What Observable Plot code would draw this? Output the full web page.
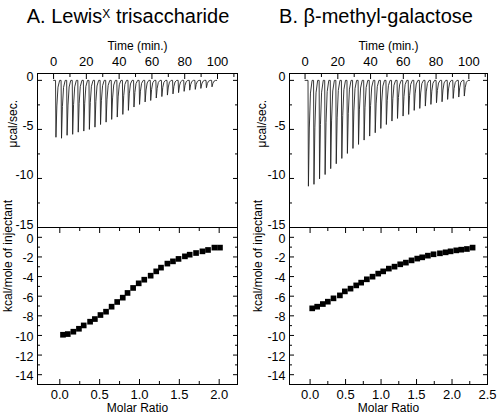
<!DOCTYPE html>
<html><head><meta charset="utf-8">
<script src="https://cdn.jsdelivr.net/npm/d3@7"></script>
<script src="https://cdn.jsdelivr.net/npm/@observablehq/plot@0.6"></script>
<style>
body{margin:0;background:#fff;}
#wrap{position:relative;width:498px;height:420px;font-family:"Liberation Sans",Arial,sans-serif;overflow:hidden;background:#fff;}
#wrap svg{position:absolute;left:0;top:0;}
.title{position:absolute;font-size:20px;line-height:20px;text-align:center;white-space:nowrap;color:#000;}
.title sup{font-size:12px;vertical-align:5px;line-height:0;}
</style></head><body>
<div id="wrap">
<div class="title" style="left:0;width:256px;top:6px">A. Lewis<sup>X</sup> trisaccharide</div>
<div class="title" style="left:250px;width:252px;top:6px">B. β-methyl-galactose</div>
</div>
<script>
// ---- data ----
const timesA = [1.2, 4.6, 8.0, 11.4, 14.8, 18.2, 21.6, 25.0, 28.4, 31.8, 35.2, 38.6, 42.0, 45.4, 48.8, 52.2, 55.6, 59.0, 62.4, 65.8, 69.2, 72.6, 76.0, 79.4, 82.8, 86.2, 89.6, 93.0, 96.4];
const peaksA = [-5.8, -5.9, -5.6, -5.5, -5.28, -5.17, -5.0, -4.77, -4.5, -4.26, -3.98, -3.74, -3.47, -3.06, -2.72, -2.45, -2.2, -2.05, -1.8, -1.65, -1.5, -1.38, -1.25, -1.12, -1.0, -0.92, -0.82, -0.75, -0.66];
const timesB = [1.8, 5.2, 8.6, 12.0, 15.4, 18.8, 22.2, 25.6, 29.0, 32.4, 35.8, 39.2, 42.6, 46.0, 49.4, 52.8, 56.2, 59.6, 63.0, 66.4, 69.8, 73.2, 76.6, 80.0, 83.4, 86.8, 90.2, 93.6, 97.0];
const peaksB = [-10.79, -10.6, -10.04, -9.6, -9.0, -8.5, -7.96, -7.45, -6.94, -6.53, -6.09, -5.68, -5.34, -4.9, -4.5, -4.15, -3.88, -3.64, -3.47, -3.06, -2.86, -2.62, -2.45, -2.28, -2.18, -1.94, -1.84, -1.7, -1.6];
const baselineA = [0, 99.5];
const baselineB = [0, 100.5];

const molarA = [0.04, 0.10, 0.17, 0.24, 0.30, 0.38, 0.44, 0.51, 0.58, 0.65, 0.72, 0.79, 0.85, 0.92, 0.99, 1.06, 1.14, 1.21, 1.27, 1.35, 1.42, 1.49, 1.57, 1.63, 1.71, 1.79, 1.86, 1.94, 2.01];
const heatA = [-9.93, -9.86, -9.62, -9.32, -8.98, -8.6, -8.33, -7.92, -7.58, -7.07, -6.59, -6.15, -5.67, -5.16, -4.69, -4.32, -3.91, -3.47, -3.09, -2.68, -2.45, -2.2, -1.94, -1.77, -1.6, -1.43, -1.29, -1.05, -1.05];
const molarB = [0.03, 0.10, 0.18, 0.25, 0.33, 0.42, 0.49, 0.57, 0.65, 0.72, 0.80, 0.88, 0.96, 1.03, 1.11, 1.19, 1.27, 1.35, 1.43, 1.51, 1.58, 1.66, 1.74, 1.83, 1.91, 1.98, 2.06, 2.13, 2.21, 2.29];
const heatB = [-7.24, -7.07, -6.8, -6.56, -6.22, -5.92, -5.51, -5.23, -4.9, -4.62, -4.28, -4.01, -3.7, -3.47, -3.19, -2.99, -2.75, -2.58, -2.35, -2.17, -2.04, -1.87, -1.73, -1.63, -1.53, -1.43, -1.33, -1.26, -1.19, -1.05];

// tick values
const timeTicks = [0, 20, 40, 60, 80, 100];
const timeMinor = [10, 30, 50, 70, 90, 110];
const rawTicks = [0, -5, -10, -15];
const rawMinor = [-2.5, -7.5, -12.5];
const heatTicks = [0, -2, -4, -6, -8, -10, -12, -14];
const heatMinor = [-1, -3, -5, -7, -9, -11, -13];
const molarTicksA = [0, 0.5, 1.0, 1.5, 2.0];
const molarMinorA = [0.25, 0.75, 1.25, 1.75];
const molarTicksB = [0, 0.5, 1.0, 1.5, 2.0, 2.5];
const molarMinorB = [0.25, 0.75, 1.25, 1.75, 2.25];

const W = 498, H = 420;
const FONT = "Liberation Sans, Arial, sans-serif";
const TOP = 73, MID = 227, BOT = 384;
const fmtInt = d => String(d);
const fmt1 = d3.format(".1f");

// thermogram trace built from each injection's read peak value
function thermogram(times, peaks, base) {
  const pts = [{t: base[0], v: 0}];
  times.forEach((t, i) => {
    const d = peaks[i];
    pts.push({t, v: 0}, {t: t + 0.25, v: d}, {t: t + 0.8, v: 0.45 * d}, {t: t + 1.5, v: 0.12 * d}, {t: t + 2.5, v: 0});
  });
  pts.push({t: base[1], v: 0});
  return pts;
}

function tickAxes(axis, major, minor, anchors) {
  const out = [];
  for (const a of anchors) {
    out.push(axis(major, {anchor: a, tickSize: -5, text: null, label: null, stroke: "#000"}));
    out.push(axis(minor, {anchor: a, tickSize: -3, text: null, label: null, stroke: "#000"}));
  }
  return out;
}

function upper(fl, fr, tDomain, times, peaks, base, labDx) {
  return Plot.plot({
    width: W, height: H,
    marginLeft: fl, marginRight: W - fr, marginTop: TOP, marginBottom: H - MID,
    style: {background: "transparent", fontFamily: FONT, fontSize: "13px", color: "#000"},
    x: {domain: tDomain},
    y: {domain: [-15, 0.7]},
    marks: [
      Plot.line(thermogram(times, peaks, base), {x: "t", y: "v", stroke: "#222", strokeWidth: 0.9}),
      Plot.axisX(timeTicks, {anchor: "top", tickSize: 0, tickPadding: 8, label: null, tickFormat: fmtInt}),
      ...tickAxes(Plot.axisX, timeTicks, timeMinor, ["top"]),
      Plot.axisY(rawTicks, {anchor: "left", tickSize: 0, tickPadding: 4, dy: -3, fontSize: 12.5, label: null, tickFormat: fmtInt}),
      ...tickAxes(Plot.axisY, rawTicks, rawMinor, ["left", "right"]),
      Plot.frame({stroke: "#000"}),
      Plot.text(["Time (min.)"], {frameAnchor: "top", dy: -31.8, fontSize: 12}),
      Plot.text(["μcal/sec."], {frameAnchor: "left", dx: labDx, dy: -3, rotate: -90, fontSize: 12})
    ]
  });
}

function lower(fl, fr, mDomain, mTicks, mMinor, molar, heat, labDx) {
  const pts = molar.map((m, i) => ({m, h: heat[i]}));
  return Plot.plot({
    width: W, height: H,
    marginLeft: fl, marginRight: W - fr, marginTop: MID, marginBottom: H - BOT,
    style: {background: "transparent", fontFamily: FONT, fontSize: "13px", color: "#000"},
    x: {domain: mDomain},
    y: {domain: [-15, 1]},
    marks: [
      Plot.dot(pts, {x: "m", y: "h", symbol: "square", r: 3.2, fill: "#000"}),
      Plot.axisX(mTicks, {anchor: "bottom", tickSize: 0, tickPadding: 5, label: null, tickFormat: fmt1}),
      ...tickAxes(Plot.axisX, mTicks, mMinor, ["bottom", "top"]),
      Plot.axisY(heatTicks, {anchor: "left", tickSize: 0, tickPadding: 4, dy: 1.5, fontSize: 12.5, label: null, tickFormat: fmtInt}),
      ...tickAxes(Plot.axisY, heatTicks, heatMinor, ["left", "right"]),
      Plot.frame({stroke: "#000"}),
      Plot.text(["Molar Ratio"], {frameAnchor: "bottom", dy: 27.5, fontSize: 12}),
      Plot.text(["kcal/mole of injectant"], {frameAnchor: "left", dx: labDx, dy: 6, rotate: -90, fontSize: 12})
    ]
  });
}

const wrap = document.getElementById("wrap");
wrap.appendChild(upper(37, 237, [-9.8, 112.2], timesA, peaksA, baselineA, -24.5));
wrap.appendChild(lower(37, 237, [-0.28, 2.23], molarTicksA, molarMinorA, molarA, heatA, -29));
wrap.appendChild(upper(289, 487, [-9.5, 111.4], timesB, peaksB, baselineB, -27));
wrap.appendChild(lower(289, 487, [-0.29, 2.5], molarTicksB, molarMinorB, molarB, heatB, -31));
</script>
</body></html>
